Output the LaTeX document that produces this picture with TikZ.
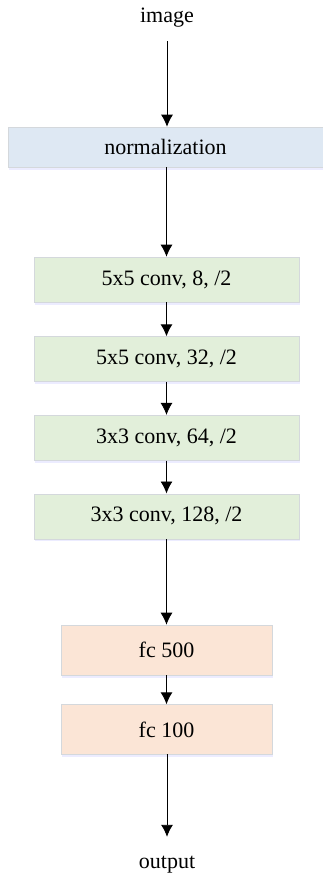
\documentclass[tikz,border=0pt]{standalone}
\usepackage{fontspec}
\setmainfont{Liberation Serif}
\usetikzlibrary{positioning,arrows.meta,shadows}
\definecolor{normfill}{HTML}{DEE8F3}
\definecolor{convfill}{HTML}{E2EFDA}
\definecolor{fcfill}{HTML}{FBE5D6}
\definecolor{boxline}{HTML}{D4D8DC}

\begin{document}
\begin{tikzpicture}[x=1pt,y=1pt,
    every node/.style={font=\fontsize{22}{26}\selectfont},
    layer/.style={draw=boxline,line width=0.6pt,minimum height=45pt,inner sep=0pt,
        drop shadow={opacity=0.12,fill=blue!60,shadow xshift=0.5pt,shadow yshift=-2.5pt}},
    txt/.style={inner sep=0pt,text height=15pt,text depth=5pt},
    flow/.style={-{Latex[length=12pt,width=12pt]},line width=0.9pt}]
%cadre
\useasboundingbox (0,0) rectangle (323,-876);
%fin

%entree et normalisation
\node [txt] (img) at (167,-17) {image};
\node [layer,fill=normfill,minimum width=315pt,minimum height=40pt] (norm) at (165.5,-147) {normalization};
%fin

%convolutions
\node [layer,fill=convfill,minimum width=265pt] (conv1) at (166.5,-279.5) {5x5 conv, 8, /2};
\node [layer,fill=convfill,minimum width=265pt,below=34pt of conv1] (conv2) {5x5 conv, 32, /2};
\node [layer,fill=convfill,minimum width=265pt,below=33pt of conv2] (conv3) {3x3 conv, 64, /2};
\node [layer,fill=convfill,minimum width=265pt,below=33pt of conv3] (conv4) {3x3 conv, 128, /2};
%fin

%couches fc et sortie
\node [layer,fill=fcfill,minimum width=211pt,minimum height=50pt] (fc1) at (166.5,-650) {fc 500};
\node [layer,fill=fcfill,minimum width=211pt,minimum height=50pt,below=29pt of fc1] (fc2) {fc 100};
\node [txt] (out) at (167,-863) {output};
%fin

%fleches
\draw [flow,shorten <=14pt] (img.south) -- (img.south |- norm.north);
\draw [flow] (norm.south -| conv1.north) -- (conv1.north);
\draw [flow] (conv1) -- (conv2);
\draw [flow] (conv2) -- (conv3);
\draw [flow] (conv3) -- (conv4);
\draw [flow] (conv4.south -| fc1.north) -- (fc1.north);
\draw [flow] (fc1) -- (fc2);
\draw [flow,shorten >=16pt] (fc2.south) -- (fc2.south -| out.north) -- (out.north);
%fin
\end{tikzpicture}
\end{document}
